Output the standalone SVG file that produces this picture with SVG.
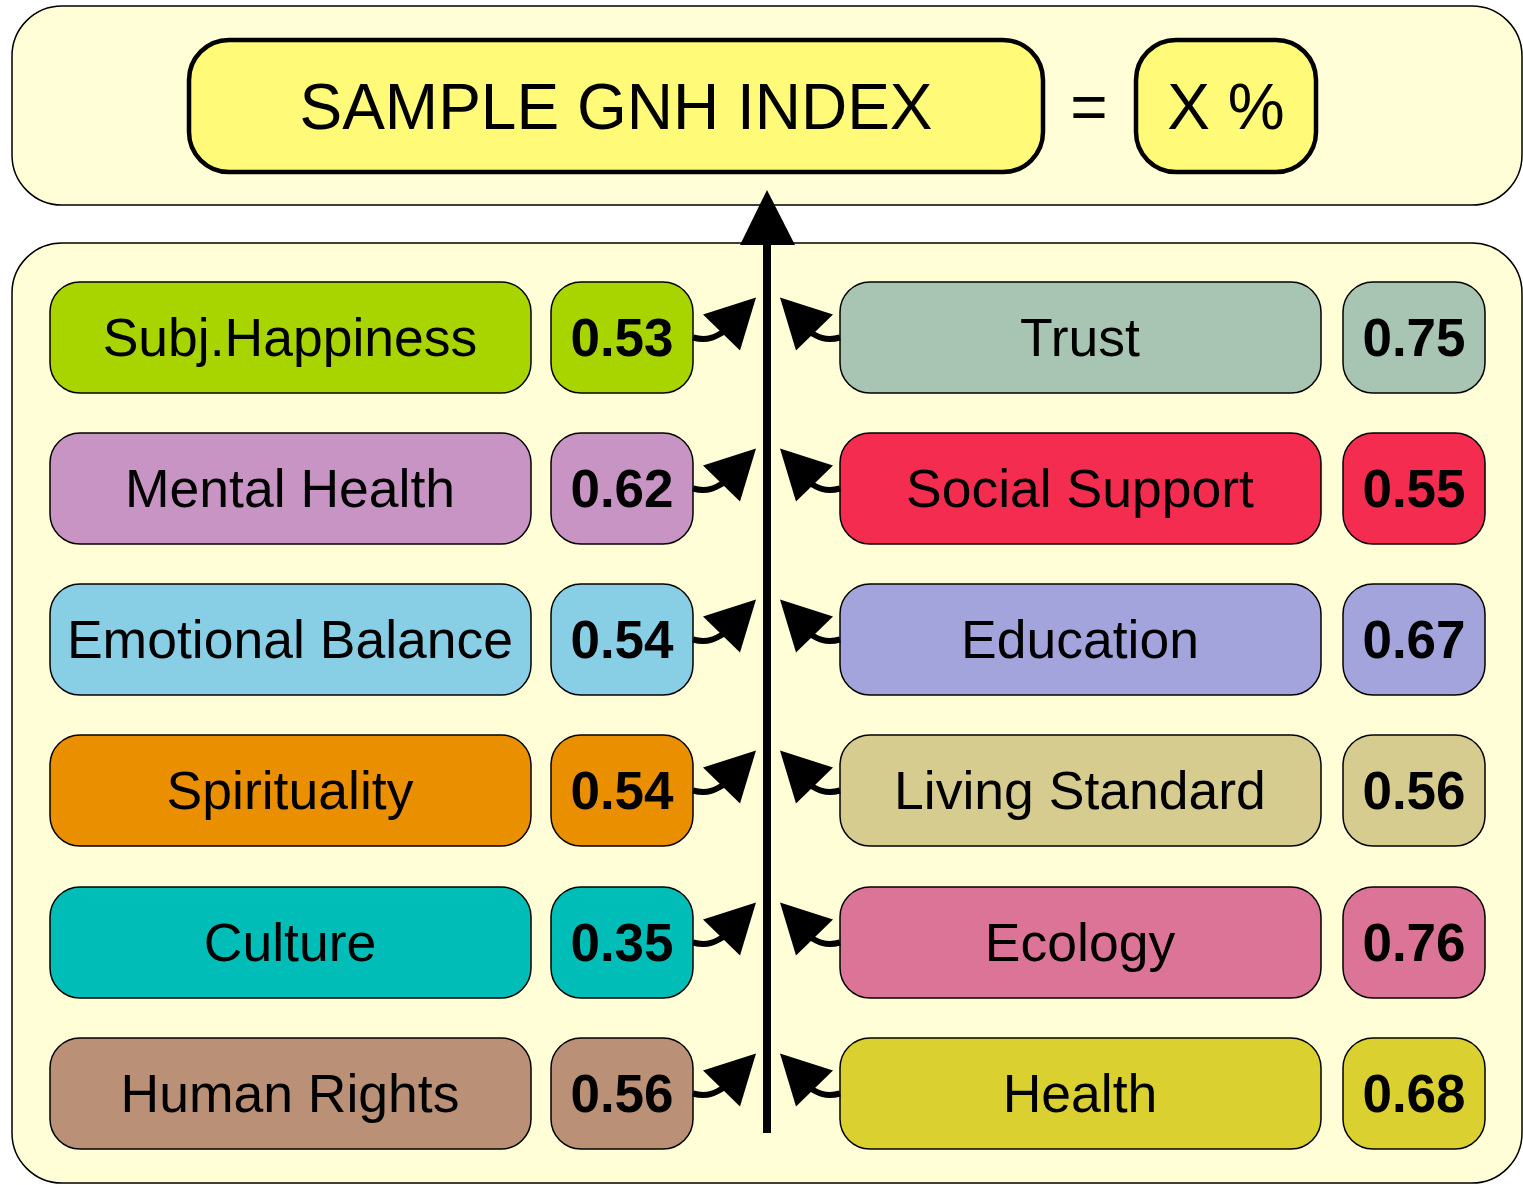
<svg xmlns="http://www.w3.org/2000/svg" width="1523" height="1185" viewBox="0 0 1523 1185">
<style>
.panel{fill:#FFFED6;stroke:#000;stroke-width:1.5}
.title{fill:#FFFA78;stroke:#000;stroke-width:4.5}
.box{stroke:#000;stroke-width:1.5}
.lbl{font-family:"Liberation Sans",Arial,sans-serif;font-size:53.5px;text-anchor:middle;fill:#000}
.val{font-family:"Liberation Sans",Arial,sans-serif;font-size:53px;font-weight:bold;text-anchor:middle;fill:#000}
.big{font-family:"Liberation Sans",Arial,sans-serif;font-size:64px;text-anchor:middle;fill:#000}
.conn{fill:none;stroke:#000;stroke-width:6}
</style>
<defs>
<g id="arrL">
<path class="conn" d="M693,0 C708,4 716,-1 724,-6"/>
<polygon points="756,-40 703,-23 740,13" fill="#000"/>
</g>
<g id="arrR">
<path class="conn" d="M840,0 C825,4 817,-1 809,-6"/>
<polygon points="780,-40 833,-23 796,13" fill="#000"/>
</g>
</defs>
<g id="top-panel">
<rect class="panel" x="12" y="6" width="1510" height="199" rx="50"/>
</g>
<g id="bottom-panel">
<rect class="panel" x="12" y="243" width="1510" height="940" rx="50"/>
</g>
<g id="gnh-index">
<rect class="title" x="189" y="40" width="854" height="132" rx="40"/>
<text class="big" x="616" y="129">SAMPLE GNH INDEX</text>
</g>
<g id="equals"><text class="big" x="1089" y="129">=</text></g>
<g id="result">
<rect class="title" x="1136" y="40" width="180" height="132" rx="40"/>
<text class="big" x="1226" y="129">X %</text>
</g>

<g id="subj-happiness"><rect class="box" fill="#A8D400" x="50" y="282" width="481" height="111" rx="30"/><text class="lbl" x="290" y="356">Subj.Happiness</text></g>
<g id="subj-happiness-val"><rect class="box" fill="#A8D400" x="551" y="282" width="142" height="111" rx="30"/><text class="val" x="622" y="356">0.53</text></g>
<g id="mental-health"><rect class="box" fill="#C894C4" x="50" y="433" width="481" height="111" rx="30"/><text class="lbl" x="290" y="507">Mental Health</text></g>
<g id="mental-health-val"><rect class="box" fill="#C894C4" x="551" y="433" width="142" height="111" rx="30"/><text class="val" x="622" y="507">0.62</text></g>
<g id="emotional-balance"><rect class="box" fill="#88CEE4" x="50" y="584" width="481" height="111" rx="30"/><text class="lbl" x="290" y="658">Emotional Balance</text></g>
<g id="emotional-balance-val"><rect class="box" fill="#88CEE4" x="551" y="584" width="142" height="111" rx="30"/><text class="val" x="622" y="658">0.54</text></g>
<g id="spirituality"><rect class="box" fill="#EA9000" x="50" y="735" width="481" height="111" rx="30"/><text class="lbl" x="290" y="809">Spirituality</text></g>
<g id="spirituality-val"><rect class="box" fill="#EA9000" x="551" y="735" width="142" height="111" rx="30"/><text class="val" x="622" y="809">0.54</text></g>
<g id="culture"><rect class="box" fill="#00BDB8" x="50" y="887" width="481" height="111" rx="30"/><text class="lbl" x="290" y="961">Culture</text></g>
<g id="culture-val"><rect class="box" fill="#00BDB8" x="551" y="887" width="142" height="111" rx="30"/><text class="val" x="622" y="961">0.35</text></g>
<g id="human-rights"><rect class="box" fill="#BA9076" x="50" y="1038" width="481" height="111" rx="30"/><text class="lbl" x="290" y="1112">Human Rights</text></g>
<g id="human-rights-val"><rect class="box" fill="#BA9076" x="551" y="1038" width="142" height="111" rx="30"/><text class="val" x="622" y="1112">0.56</text></g>

<g id="trust"><rect class="box" fill="#A8C4B2" x="840" y="282" width="481" height="111" rx="30"/><text class="lbl" x="1080" y="356">Trust</text></g>
<g id="trust-val"><rect class="box" fill="#A8C4B2" x="1343" y="282" width="142" height="111" rx="30"/><text class="val" x="1414" y="356">0.75</text></g>
<g id="social-support"><rect class="box" fill="#F42D50" x="840" y="433" width="481" height="111" rx="30"/><text class="lbl" x="1080" y="507">Social Support</text></g>
<g id="social-support-val"><rect class="box" fill="#F42D50" x="1343" y="433" width="142" height="111" rx="30"/><text class="val" x="1414" y="507">0.55</text></g>
<g id="education"><rect class="box" fill="#A4A4DC" x="840" y="584" width="481" height="111" rx="30"/><text class="lbl" x="1080" y="658">Education</text></g>
<g id="education-val"><rect class="box" fill="#A4A4DC" x="1343" y="584" width="142" height="111" rx="30"/><text class="val" x="1414" y="658">0.67</text></g>
<g id="living-standard"><rect class="box" fill="#D6CC90" x="840" y="735" width="481" height="111" rx="30"/><text class="lbl" x="1080" y="809">Living Standard</text></g>
<g id="living-standard-val"><rect class="box" fill="#D6CC90" x="1343" y="735" width="142" height="111" rx="30"/><text class="val" x="1414" y="809">0.56</text></g>
<g id="ecology"><rect class="box" fill="#DC7498" x="840" y="887" width="481" height="111" rx="30"/><text class="lbl" x="1080" y="961">Ecology</text></g>
<g id="ecology-val"><rect class="box" fill="#DC7498" x="1343" y="887" width="142" height="111" rx="30"/><text class="val" x="1414" y="961">0.76</text></g>
<g id="health"><rect class="box" fill="#DAD030" x="840" y="1038" width="481" height="111" rx="30"/><text class="lbl" x="1080" y="1112">Health</text></g>
<g id="health-val"><rect class="box" fill="#DAD030" x="1343" y="1038" width="142" height="111" rx="30"/><text class="val" x="1414" y="1112">0.68</text></g>

<g id="connectors">
<line x1="767" y1="1133" x2="767" y2="238" stroke="#000" stroke-width="8"/>
<polygon points="767,190 740,245 795,245" fill="#000"/>
<use href="#arrL" y="337.5"/><use href="#arrR" y="337.5"/>
<use href="#arrL" y="488.5"/><use href="#arrR" y="488.5"/>
<use href="#arrL" y="639.5"/><use href="#arrR" y="639.5"/>
<use href="#arrL" y="790.5"/><use href="#arrR" y="790.5"/>
<use href="#arrL" y="942.5"/><use href="#arrR" y="942.5"/>
<use href="#arrL" y="1093.5"/><use href="#arrR" y="1093.5"/>
</g>
</svg>
